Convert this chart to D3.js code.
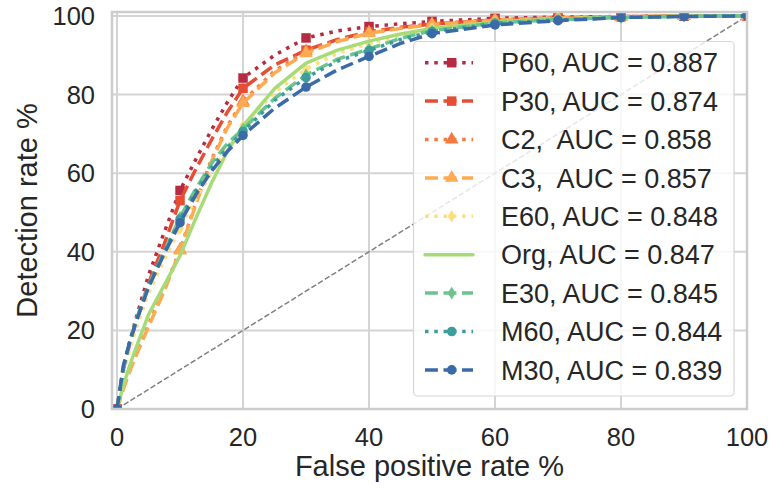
<!DOCTYPE html>
<html>
<head>
<meta charset="utf-8">
<script src="https://cdn.jsdelivr.net/npm/d3@7"></script>
<style>
body { margin: 0; background: #fff; }
text { font-family: Arial, "Liberation Sans", sans-serif; fill: #262626; }
</style>
</head>
<body>
<svg id="main" width="773" height="489"></svg>
<script>
// data (rates in %)
var fpr = [0, 1, 2, 3, 5, 7.5, 10, 12.5, 15, 17.5, 20, 25, 30, 35, 40, 45, 50, 60, 70, 80, 90, 100];

var p60 = [0, 10, 17, 23, 34, 45, 55.6, 63.5, 71, 78, 84.2, 90, 94.4, 96.2, 97.3, 98, 98.6, 99.4, 99.7, 99.85, 99.95, 100];
var p30 = [0, 10, 16.5, 22, 32, 42, 53, 61, 68.5, 75.5, 81.6, 87.5, 91.3, 94, 96, 97.1, 97.9, 99, 99.5, 99.8, 99.95, 100];
var c2  = [0, 5.5, 10, 14, 21.5, 30.5, 40.5, 52.5, 63.5, 72, 78.3, 86, 91, 93.8, 95.8, 97, 97.9, 99, 99.5, 99.8, 99.95, 100];
var c3  = [0, 5, 9.5, 13.5, 21, 30, 40.3, 52, 63, 71.5, 77.8, 85.5, 90.5, 93.5, 95.6, 96.8, 97.8, 98.9, 99.5, 99.8, 99.95, 100];
var e60 = [0, 9, 15, 20.5, 29.5, 38, 46, 53.5, 60, 66.5, 72, 80.5, 86.5, 90.5, 93, 95, 96.8, 98.4, 99.2, 99.7, 99.9, 100];
var org = [0, 6, 11, 15.5, 24, 31.5, 39, 48.5, 57.5, 65.5, 72, 81.5, 88, 91.3, 93.6, 95.4, 96.8, 98.4, 99.2, 99.7, 99.9, 100];
var e30 = [0, 10.5, 17, 22.5, 31.5, 40, 48.8, 56, 62.5, 67.5, 71.2, 79, 85, 89, 91.6, 94.3, 96.3, 98.2, 99.1, 99.6, 99.9, 100];
var m60 = [0, 10.5, 17, 22.5, 31.5, 40, 48.3, 55.5, 61.5, 66.5, 70.6, 78.5, 84.3, 88.5, 91.2, 94, 96, 98.1, 99, 99.6, 99.9, 100];
var m30 = [0, 11, 17, 22, 31, 39.5, 47.4, 54.5, 60.5, 65.5, 69.6, 76.5, 81.9, 86.3, 89.7, 93, 95.5, 97.7, 98.8, 99.6, 99.85, 100];

var names  = ["P60, AUC = 0.887", "P30, AUC = 0.874", "C2,  AUC = 0.858", "C3,  AUC = 0.857", "E60, AUC = 0.848",
              "Org, AUC = 0.847", "E30, AUC = 0.845", "M60, AUC = 0.844", "M30, AUC = 0.839"];
var values = [p60, p30, c2, c3, e60, org, e30, m60, m30];
var colors = ["#b62a42", "#e54e35", "#f67a3f", "#fdab52", "#fedf7e", "#a7db78", "#6bc48e", "#3d9d9b", "#3a6aa8"];
var styles = ["dot", "dash", "dot", "dash", "dot", "solid", "dash", "dot", "dash"];
var marks  = ["square", "square", "triangle", "triangle", "diamond", "none", "diamond", "circle", "circle"];

var xTicks = [0, 20, 40, 60, 80, 100];
var yTicks = [0, 20, 40, 60, 80, 100];

window.onload = function() {
var svg = d3.select("#main");

var left = 112, right = 747, top = 12, bottom = 409;
var x = d3.scaleLinear().domain([-0.8, 100]).range([left, right]);
var y = d3.scaleLinear().domain([0, 101]).range([bottom, top]);

var lw = 3.5;
var dashes = { dot: "3.5,5.8", dash: "12.9,5.6", solid: null };

// grid
svg.selectAll(".gx").data(xTicks).enter().append("line")
	.attr("x1", function(d){ return x(d); }).attr("x2", function(d){ return x(d); })
	.attr("y1", top).attr("y2", bottom)
	.attr("stroke", "#d4d4d4").attr("stroke-width", 2);
svg.selectAll(".gy").data(yTicks).enter().append("line")
	.attr("y1", function(d){ return y(d); }).attr("y2", function(d){ return y(d); })
	.attr("x1", left).attr("x2", right)
	.attr("stroke", "#d4d4d4").attr("stroke-width", 2);

// tick labels
svg.selectAll(".tx").data(xTicks).enter().append("text")
	.attr("x", function(d){ return x(d); }).attr("y", 446)
	.attr("text-anchor", "middle").style("font-size", "25.5px")
	.text(function(d){ return d; });
svg.selectAll(".ty").data(yTicks).enter().append("text")
	.attr("x", 95).attr("y", function(d){ return y(d) + 9; })
	.attr("text-anchor", "end").style("font-size", "25.5px")
	.text(function(d){ return d; });

svg.append("text").attr("x", (left + right) / 2).attr("y", 476)
	.attr("text-anchor", "middle").style("font-size", "29px")
	.text("False positive rate %");
svg.append("text").attr("transform", "translate(37," + ((top + bottom) / 2) + ") rotate(-90)")
	.attr("text-anchor", "middle").style("font-size", "29px")
	.text("Detection rate %");

svg.append("clipPath").attr("id", "clip").append("rect")
	.attr("x", left).attr("y", top).attr("width", right - left).attr("height", bottom - top);

var plot = svg.append("g").attr("clip-path", "url(#clip)");

// chance line
plot.append("line")
	.attr("x1", x(0)).attr("y1", y(0)).attr("x2", x(100)).attr("y2", y(100))
	.attr("stroke", "#808080").attr("stroke-width", 1.5).attr("stroke-dasharray", "5.5,2.4");

var line = d3.line()
	.x(function(d, i){ return x(fpr[i]); })
	.y(function(d){ return y(d); });

var symbolFor = function(m) {
	if (m == "square") return d3.symbol().type(d3.symbolSquare).size(90);
	if (m == "triangle") return d3.symbol().type(d3.symbolTriangle).size(80);
	if (m == "circle") return d3.symbol().type(d3.symbolCircle).size(72);
	return null;
};

var drawMarker = function(g, m, cx, cy, col) {
	if (m == "none") return;
	if (m == "diamond") {
		g.append("path")
			.attr("d", "M0,-6.3L4,0L0,6.3L-4,0Z")
			.attr("transform", "translate(" + cx + "," + cy + ")")
			.attr("fill", col);
		return;
	}
	g.append("path")
		.attr("d", symbolFor(m)())
		.attr("transform", "translate(" + cx + "," + cy + ")")
		.attr("fill", col);
};

values.forEach(function(v, k){
	plot.append("path")
		.datum(v)
		.attr("d", line)
		.attr("fill", "none")
		.attr("stroke", colors[k])
		.attr("stroke-width", lw)
		.attr("stroke-linejoin", "round")
		.attr("stroke-dasharray", dashes[styles[k]]);
	v.forEach(function(d, i){
		if (fpr[i] % 10 == 0) drawMarker(plot, marks[k], x(fpr[i]), y(d), colors[k]);
	});
});

// frame
svg.append("rect").attr("x", left).attr("y", top)
	.attr("width", right - left).attr("height", bottom - top)
	.attr("fill", "none").attr("stroke", "#cccccc").attr("stroke-width", 2.5);

// legend
var lg = svg.append("g");
lg.append("rect").attr("x", 413.5).attr("y", 41.5).attr("width", 320.5).attr("height", 354.5)
	.attr("rx", 4).attr("ry", 4)
	.attr("fill", "rgba(255,255,255,0.8)").attr("stroke", "#d6d6d6").attr("stroke-width", 1.2);

names.forEach(function(n, k){
	var ry = 62.7 + k * 38.4;
	lg.append("line")
		.attr("x1", 425).attr("x2", 473).attr("y1", ry).attr("y2", ry)
		.attr("stroke", colors[k])
		.attr("stroke-width", lw)
		.attr("stroke-linecap", styles[k] == "solid" ? "round" : "butt")
		.attr("stroke-dasharray", dashes[styles[k]]);
	drawMarker(lg, marks[k], 451.7, ry, colors[k]);
	lg.append("text").attr("x", 501).attr("y", ry + 9.7)
		.style("font-size", "27px").style("white-space", "pre")
		.text(n);
});
}
</script>
</body>
</html>
